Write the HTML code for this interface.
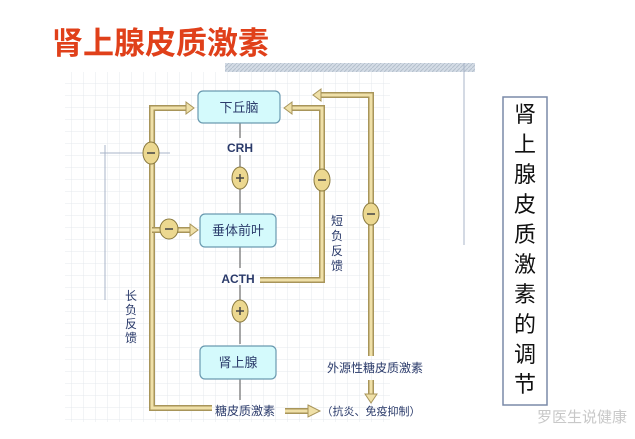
<!DOCTYPE html>
<html><head><meta charset="utf-8"><style>
html,body{margin:0;padding:0;background:#fff;}
svg{display:block;}
text{font-family:"Liberation Sans","Noto Sans CJK SC",sans-serif;}
</style></head><body>
<svg width="635" height="439" viewBox="0 0 635 439" xmlns="http://www.w3.org/2000/svg">
<defs>
<pattern id="grid" width="12" height="12" patternUnits="userSpaceOnUse">
<path d="M12 0V12H0" fill="none" stroke="#e4e8ee" stroke-width="1"/>
</pattern>
<pattern id="hatch" width="4" height="4" patternUnits="userSpaceOnUse">
<rect width="4" height="4" fill="#d4dce6"/><path d="M0 4L4 0" stroke="#b4c0cc" stroke-width="1"/>
</pattern>
</defs>
<rect x="65" y="72" width="325" height="350" fill="url(#grid)"/>
<rect x="225" y="63" width="250" height="9" fill="url(#hatch)"/>
<line x1="464" y1="63" x2="464" y2="245" stroke="#a8b4c8" stroke-width="1"/>
<line x1="100" y1="153" x2="170" y2="153" stroke="#a8b4c8" stroke-width="1"/>
<line x1="105" y1="145" x2="105" y2="300" stroke="#a8b4c8" stroke-width="1"/>
<text x="52" y="54" font-size="31" fill="#e0401a" font-family="Liberation Serif,'Noto Serif CJK SC',serif" font-weight="bold">肾上腺皮质激素</text>

<g fill="none" stroke-linejoin="miter">
<path d="M188 108H152V408H212" stroke="#a8955a" stroke-width="6"/>
<path d="M188 108H152V408H212" stroke="#efe0a8" stroke-width="3"/>
<path d="M152 230H190" stroke="#a8955a" stroke-width="6"/>
<path d="M152 230H190" stroke="#efe0a8" stroke-width="3"/>
<path d="M260 280H322V108H290" stroke="#a8955a" stroke-width="6"/>
<path d="M260 280H322V108H290" stroke="#efe0a8" stroke-width="3"/>
<path d="M371 356V95H319" stroke="#a8955a" stroke-width="6"/>
<path d="M371 356V95H319" stroke="#efe0a8" stroke-width="3"/>
<path d="M371 380V396" stroke="#a8955a" stroke-width="6"/>
<path d="M371 380V396" stroke="#efe0a8" stroke-width="3"/>
<path d="M285 411H310" stroke="#a8955a" stroke-width="6"/>
<path d="M285 411H310" stroke="#efe0a8" stroke-width="3"/>
</g>
<g fill="#efe0a8" stroke="#a8955a" stroke-width="1">
<polygon points="186,102 194,108 186,114"/>
<polygon points="190,224 198,230 190,236"/>
<polygon points="292,102 284,108 292,114"/>
<polygon points="321,89 313,95 321,101"/>
<polygon points="365,394 371,403 377,394"/>
<polygon points="308,405 320,411 308,417"/>
</g>
<g stroke="#888" stroke-width="1.5">
<line x1="240" y1="123" x2="240" y2="138"/>
<line x1="240" y1="155" x2="240" y2="213"/>
<line x1="240" y1="247" x2="240" y2="268"/>
<line x1="240" y1="285" x2="240" y2="344"/>
<line x1="240" y1="379" x2="240" y2="400"/>
</g>
<g fill="#d4fafc" stroke="#6a9ab0" stroke-width="1.2">
<rect x="198" y="91" width="82" height="32" rx="5"/>
<rect x="200" y="214" width="76" height="33" rx="5"/>
<rect x="200" y="346" width="76" height="33" rx="5"/>
</g>
<g fill="#2a3a6a" font-size="13" text-anchor="middle">
<text x="239" y="112">下丘脑</text>
<text x="238" y="235">垂体前叶</text>
<text x="238" y="367">肾上腺</text>
<text x="240" y="152" font-size="12" font-weight="bold">CRH</text>
<text x="238" y="283" font-size="12" font-weight="bold">ACTH</text>
<text x="245" y="415" font-size="12">糖皮质激素</text>
<text x="371" y="415" font-size="11">（抗炎、免疫抑制）</text>
<text x="375" y="372" font-size="12">外源性糖皮质激素</text>
</g>
<g fill="#2a3a6a" font-size="12" text-anchor="middle">
<text x="131" y="300">长</text><text x="131" y="314">负</text><text x="131" y="328">反</text><text x="131" y="342">馈</text>
<text x="337" y="225">短</text><text x="337" y="240">负</text><text x="337" y="255">反</text><text x="337" y="270">馈</text>
</g>
<g fill="#ecd890" stroke="#8a7a40" stroke-width="1">
<ellipse cx="151" cy="153" rx="8" ry="11"/>
<ellipse cx="169" cy="229" rx="9" ry="10"/>
<ellipse cx="322" cy="180" rx="8" ry="11"/>
<ellipse cx="371" cy="214" rx="8" ry="11"/>
<ellipse cx="240" cy="178" rx="8" ry="11"/>
<ellipse cx="240" cy="311" rx="8" ry="11"/>
</g>
<g stroke="#444" stroke-width="1.5">
<line x1="147" y1="153" x2="155" y2="153"/>
<line x1="165" y1="229" x2="173" y2="229"/>
<line x1="318" y1="180" x2="326" y2="180"/>
<line x1="367" y1="214" x2="375" y2="214"/>
<line x1="236" y1="178" x2="244" y2="178"/><line x1="240" y1="174" x2="240" y2="182"/>
<line x1="236" y1="311" x2="244" y2="311"/><line x1="240" y1="307" x2="240" y2="315"/>
</g>
<rect x="503" y="97" width="44" height="308" fill="#fff" stroke="#7a8aa8" stroke-width="1.5"/>
<g font-size="22" fill="#111" text-anchor="middle" font-family="Liberation Serif,'Noto Serif CJK SC',serif">
<text x="525" y="122">肾</text><text x="525" y="152">上</text><text x="525" y="182">腺</text><text x="525" y="212">皮</text><text x="525" y="242">质</text><text x="525" y="272">激</text><text x="525" y="302">素</text><text x="525" y="332">的</text><text x="525" y="362">调</text><text x="525" y="392">节</text>
</g>
<text x="582" y="422" font-size="15" fill="#c8c8c8" text-anchor="middle">罗医生说健康</text>
</svg>
</body></html>
